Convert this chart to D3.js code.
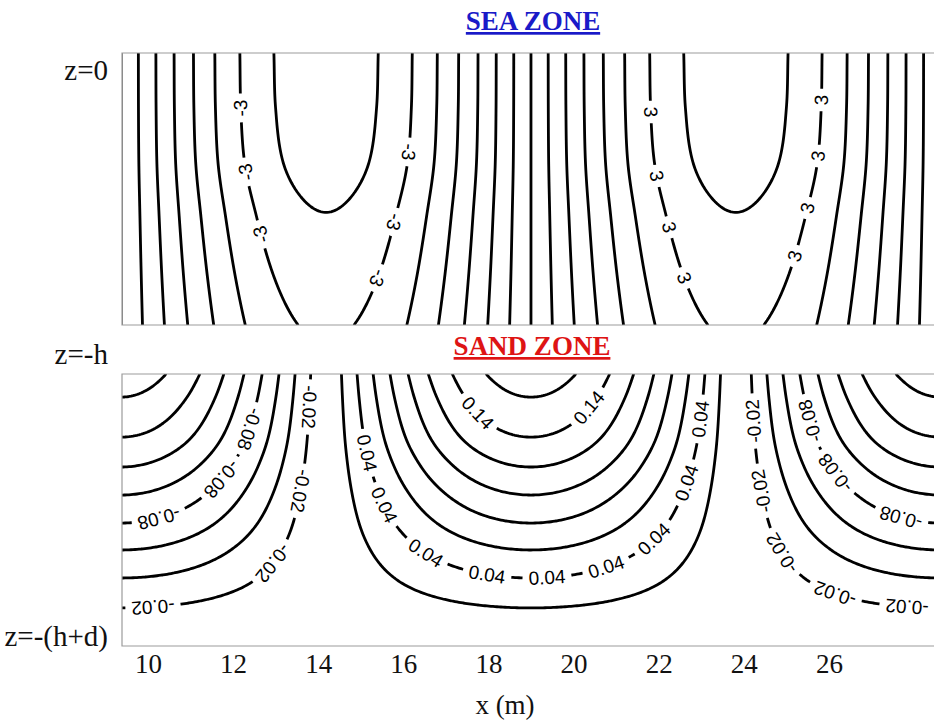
<!DOCTYPE html>
<html>
<head>
<meta charset="utf-8">
<script src="https://cdn.jsdelivr.net/npm/d3@7"></script>
<style>
  html, body { margin: 0; padding: 0; background: #fff; }
  svg { display: block; }
</style>
</head>
<body>
<svg id="chart" width="934" height="724"></svg>
<script>
// ---- x axis ----
const xTicks = [10, 12, 14, 16, 18, 20, 22, 24, 26];
const xExtent = [9.39, 28.47];

// ---- standing-wave geometry along x (m) ----
const nodeX = 19.0;            // node of the sea potential, antinode of the sand field
const halfWavelength = 9.63;   // trough-to-crest distance

// ---- sea zone: levels and amplitude vs relative depth (0: z=0, 1: z=-h) ----
const seaLevels = [-3.5, -3, -2.5, -2, -1.5, -1, -0.5, 0, 0.5, 1, 1.5, 2, 2.5, 3, 3.5];
const seaDepth = [0, 0.2, 0.4, 0.6, 0.8, 1];
const seaAmp = [3.80, 3.78, 3.70, 3.485, 3.28, 3.07];

// ---- sand zone: levels and amplitude vs relative depth (0: z=-h, 1: z=-(h+d)) ----
const sandLevels = [-0.16, -0.14, -0.12, -0.10, -0.08, -0.06, -0.04, -0.02,
                    0.02, 0.04, 0.06, 0.08, 0.10, 0.12, 0.14, 0.16];
const sandDepth = [0, 0.085, 0.232, 0.342, 0.445, 0.548, 0.647, 0.750, 0.860, 1];
const sandAmp = [0.170, 0.160, 0.140, 0.120, 0.100, 0.080, 0.060, 0.040, 0.020, 0.000];

// ---- in-line contour labels: [level, x (m), relative depth] ----
const seaLabels = [
  [-3, 12.21, 0.20], [-3, 12.35, 0.44], [-3, 12.63, 0.67],
  [-3, 16.11, 0.36], [-3, 15.80, 0.62], [-3, 15.41, 0.83],
  [3, 21.80, 0.22], [3, 21.96, 0.45], [3, 22.20, 0.64], [3, 22.57, 0.83],
  [3, 25.84, 0.17], [3, 25.72, 0.38], [3, 25.49, 0.57], [3, 25.25, 0.75]
];
const sandLabels = [
  [-0.08, 12.35, 0.20], [-0.08, 11.69, 0.38], [-0.08, 10.28, 0.53],
  [-0.02, 13.76, 0.12], [-0.02, 13.57, 0.43], [-0.02, 12.87, 0.69], [-0.02, 10.12, 0.86],
  [0.04, 15.15, 0.29], [0.04, 15.69, 0.47], [0.04, 16.56, 0.65], [0.04, 17.97, 0.75],
  [0.04, 19.38, 0.75], [0.04, 20.74, 0.70], [0.04, 21.87, 0.60], [0.04, 22.67, 0.40],
  [0.04, 23.04, 0.17],
  [0.14, 17.80, 0.14], [0.14, 20.32, 0.12],
  [-0.02, 24.22, 0.17], [-0.02, 24.43, 0.43], [-0.02, 25.02, 0.65], [-0.02, 26.19, 0.79],
  [-0.02, 27.84, 0.86],
  [-0.08, 25.56, 0.17], [-0.08, 26.19, 0.36], [-0.08, 27.74, 0.50]
];

// ---- layout ----
const plotLeft = 122, plotRight = 934;
const seaBox = { top: 53, bottom: 325 };
const sandBox = { top: 374, bottom: 646 };
const lineWidth = 2.8;
const labelSize = 19;
const labelGap = 6;
const serif = "'Liberation Serif', 'Times New Roman', Times, serif";
const sans = "'Liberation Sans', Arial, Helvetica, sans-serif";

const svg = d3.select("#chart");
const x = d3.scaleLinear().domain(xExtent).range([plotLeft, plotRight]);
const kx = Math.PI / halfWavelength;

// monotone cubic (Fritsch-Carlson) through the depth profile samples
function monotoneProfile(xs, ys) {
  const n = xs.length, d = [], m = new Array(n);
  for (let i = 0; i < n - 1; i++) d.push((ys[i + 1] - ys[i]) / (xs[i + 1] - xs[i]));
  m[0] = d[0]; m[n - 1] = d[n - 2];
  for (let i = 1; i < n - 1; i++) m[i] = d[i - 1] * d[i] <= 0 ? 0 : (d[i - 1] + d[i]) / 2;
  for (let i = 0; i < n - 1; i++) {
    if (d[i] === 0) { m[i] = m[i + 1] = 0; continue; }
    const a = m[i] / d[i], b = m[i + 1] / d[i], s = a * a + b * b;
    if (s > 9) { const t = 3 / Math.sqrt(s); m[i] = t * a * d[i]; m[i + 1] = t * b * d[i]; }
  }
  return t => {
    if (t <= xs[0]) return ys[0];
    if (t >= xs[n - 1]) return ys[n - 1];
    const i = Math.min(n - 2, d3.bisectRight(xs, t) - 1);
    const h = xs[i + 1] - xs[i], u = (t - xs[i]) / h;
    const u2 = u * u, u3 = u2 * u;
    return (2 * u3 - 3 * u2 + 1) * ys[i] + (u3 - 2 * u2 + u) * h * m[i] +
           (-2 * u3 + 3 * u2) * ys[i + 1] + (u3 - u2) * h * m[i + 1];
  };
}

const seaA = monotoneProfile(seaDepth, seaAmp);
const sandA = monotoneProfile(sandDepth, sandAmp);
const seaField = (xm, zr) => seaA(zr) * Math.sin(kx * (xm - nodeX));
const sandField = (xm, zr) => sandA(zr) * Math.cos(kx * (xm - nodeX));

function cumulative(poly) {
  const c = [0];
  for (let i = 1; i < poly.length; i++)
    c.push(c[i - 1] + Math.hypot(poly[i][0] - poly[i - 1][0], poly[i][1] - poly[i - 1][1]));
  return c;
}
function pointAt(poly, cum, s) {
  if (s <= 0) return poly[0].slice();
  const L = cum[cum.length - 1];
  if (s >= L) return poly[poly.length - 1].slice();
  let i = d3.bisectRight(cum, s) - 1;
  i = Math.max(0, Math.min(i, poly.length - 2));
  const seg = cum[i + 1] - cum[i] || 1, u = (s - cum[i]) / seg;
  return [poly[i][0] + u * (poly[i + 1][0] - poly[i][0]), poly[i][1] + u * (poly[i + 1][1] - poly[i][1])];
}

function drawPanel(id, box, levels, field, labels) {
  const H = box.bottom - box.top;
  const cell = 2, pad = 6;
  const gx0 = plotLeft - pad, gy0 = box.top - pad;
  const nx = Math.ceil((plotRight - plotLeft + 2 * pad) / cell);
  const ny = Math.ceil((H + 2 * pad) / cell);
  const values = new Float64Array(nx * ny);
  for (let j = 0; j < ny; j++) {
    const zr = (gy0 + (j + 0.5) * cell - box.top) / H;
    for (let i = 0; i < nx; i++) values[j * nx + i] = field(x.invert(gx0 + (i + 0.5) * cell), zr);
  }
  const fieldPx = (px, py) => field(x.invert(px), (py - box.top) / H);

  // isolines: contour rings with the grid-border parts removed
  const lines = [];
  const onBorder = p => p[0] <= 0 || p[0] >= nx || p[1] <= 0 || p[1] >= ny;
  const toPx = p => [gx0 + p[0] * cell, gy0 + p[1] * cell];
  d3.contours().size([nx, ny]).thresholds(levels)(values).forEach(c => {
    c.coordinates.forEach(polygon => polygon.forEach(ring => {
      const pts = ring.slice(0, ring.length - 1);
      const b = pts.findIndex(onBorder);
      if (b < 0) {
        const poly = pts.map(toPx); poly.push(poly[0].slice());
        lines.push({ value: c.value, poly });
        return;
      }
      const rot = pts.slice(b).concat(pts.slice(0, b + 1));
      let run = [];
      rot.forEach(p => {
        if (onBorder(p)) {
          if (run.length > 1) lines.push({ value: c.value, poly: run.map(toPx) });
          run = [];
        } else run.push(p);
      });
      if (run.length > 1) lines.push({ value: c.value, poly: run.map(toPx) });
    }));
  });
  lines.forEach(l => { l.cum = cumulative(l.poly); l.cuts = []; });

  const clipId = "clip-" + id;
  svg.append("clipPath").attr("id", clipId).append("rect")
    .attr("x", plotLeft).attr("y", box.top)
    .attr("width", plotRight - plotLeft).attr("height", H);

  const lineG = svg.append("g").attr("clip-path", `url(#${clipId})`);
  const labelG = svg.append("g").attr("clip-path", `url(#${clipId})`)
    .attr("font-family", sans).attr("font-size", labelSize).attr("fill", "#000");

  labels.forEach(([level, xm, zr]) => {
    const ax = x(xm), ay = box.top + zr * H;
    let best = null, bestD = Infinity;
    lines.forEach(l => {
      if (Math.abs(l.value - level) > 1e-9) return;
      l.poly.forEach((p, idx) => {
        const dd = (p[0] - ax) ** 2 + (p[1] - ay) ** 2;
        if (dd < bestD) { bestD = dd; best = { l, idx }; }
      });
    });
    if (!best) return;
    const { l } = best;
    const s = l.cum[best.idx];
    const p = pointAt(l.poly, l.cum, s);
    const p1 = pointAt(l.poly, l.cum, s - 8), p2 = pointAt(l.poly, l.cum, s + 8);
    let tx = p2[0] - p1[0], ty = p2[1] - p1[1];
    const tn = Math.hypot(tx, ty) || 1; tx /= tn; ty /= tn;
    // text runs with the higher values on its left-hand side
    const nxl = ty, nyl = -tx;
    if (fieldPx(p[0] + 3 * nxl, p[1] + 3 * nyl) < fieldPx(p[0] - 3 * nxl, p[1] - 3 * nyl)) { tx = -tx; ty = -ty; }
    const ang = Math.atan2(ty, tx) * 180 / Math.PI;
    const t = labelG.append("text")
      .attr("text-anchor", "middle").attr("dominant-baseline", "central")
      .attr("transform", `translate(${p[0]},${p[1]}) rotate(${ang})`)
      .text(String(level));
    const w = t.node().getComputedTextLength();
    l.cuts.push([s - w / 2 - labelGap, s + w / 2 + labelGap]);
  });

  const lineGen = d3.line();
  lines.forEach(l => {
    const L = l.cum[l.cum.length - 1];
    const cuts = l.cuts.sort((a, b) => a[0] - b[0]);
    const keep = [];
    let start = 0;
    cuts.forEach(([a, b]) => { if (a > start) keep.push([start, a]); start = Math.max(start, b); });
    if (start < L) keep.push([start, L]);
    keep.forEach(([a, b]) => {
      const seg = [pointAt(l.poly, l.cum, a)];
      for (let i = 0; i < l.poly.length; i++) if (l.cum[i] > a && l.cum[i] < b) seg.push(l.poly[i]);
      seg.push(pointAt(l.poly, l.cum, b));
      lineG.append("path").attr("d", lineGen(seg))
        .attr("fill", "none").attr("stroke", "#000")
        .attr("stroke-width", lineWidth).attr("stroke-linejoin", "round");
    });
  });

  // frame (open on the right)
  svg.append("path")
    .attr("d", `M${plotRight + 2},${box.top}H${plotLeft}V${box.bottom}H${plotRight + 2}`)
    .attr("fill", "none").attr("stroke", "#9c9c9c").attr("stroke-width", 1.2);
}

drawPanel("sea", seaBox, seaLevels, seaField, seaLabels);
drawPanel("sand", sandBox, sandLevels, sandField, sandLabels);

// titles
svg.append("text").attr("x", 533).attr("y", 30).attr("text-anchor", "middle")
  .attr("font-family", serif).attr("font-weight", "bold").attr("font-size", 27)
  .attr("fill", "#1a1ac8").attr("text-decoration", "underline").text("SEA ZONE");
svg.append("text").attr("x", 532).attr("y", 355).attr("text-anchor", "middle")
  .attr("font-family", serif).attr("font-weight", "bold").attr("font-size", 27)
  .attr("fill", "#de1414").attr("text-decoration", "underline").text("SAND ZONE");

// depth markers
const zLabels = [["z=0", 80], ["z=-h", 364], ["z=-(h+d)", 646]];
svg.append("g").selectAll("text").data(zLabels).join("text")
  .attr("x", 108).attr("y", d => d[1]).attr("text-anchor", "end")
  .attr("font-family", serif).attr("font-size", 29).attr("fill", "#111")
  .text(d => d[0]);

// x axis (labels only)
const axisG = svg.append("g").attr("transform", `translate(0,${sandBox.bottom})`)
  .call(d3.axisBottom(x).tickValues(xTicks).tickSize(0).tickPadding(8).tickFormat(d3.format("d")));
axisG.select(".domain").remove();
axisG.selectAll("text").attr("font-family", serif).attr("font-size", 27).attr("fill", "#111");

svg.append("text").attr("x", 505).attr("y", 714).attr("text-anchor", "middle")
  .attr("font-family", serif).attr("font-size", 27).attr("fill", "#111").text("x (m)");
</script>
</body>
</html>
